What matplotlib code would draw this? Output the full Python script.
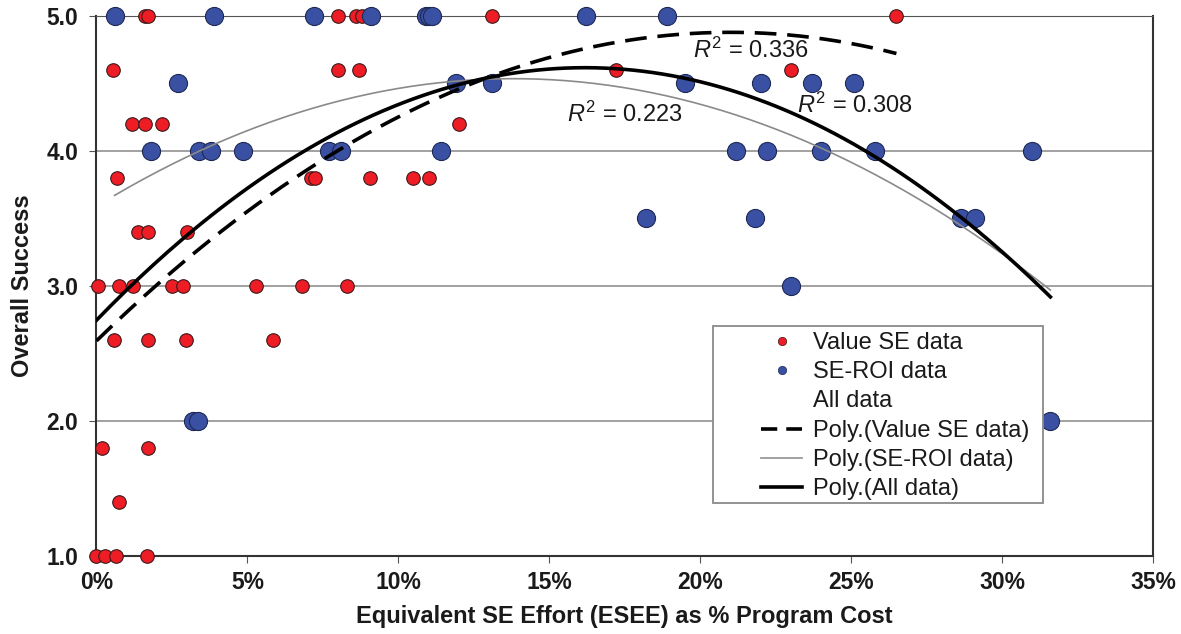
import numpy as np
import matplotlib
matplotlib.use("Agg")
import matplotlib.pyplot as plt
from matplotlib.lines import Line2D
from matplotlib.patches import Rectangle
from matplotlib.ticker import FuncFormatter

plt.rcParams['font.family'] = ['Liberation Sans', 'DejaVu Sans']
plt.rcParams['mathtext.fontset'] = 'custom'
plt.rcParams['mathtext.it'] = 'Liberation Sans:italic'
plt.rcParams['mathtext.rm'] = 'Liberation Sans'

# Value SE data (x in % of program cost, y = overall success)
value_x = [1.6, 1.7, 8.0, 8.6, 8.8, 13.1, 26.5,
           0.55, 8.0, 8.7, 17.2, 23.0,
           1.18, 1.6, 2.17, 12.0,
           0.68, 7.1, 7.25, 9.05, 10.5, 11.0,
           1.38, 1.7, 3.0,
           0.05, 0.75, 1.2, 2.5, 2.87, 5.3, 6.8, 8.3,
           0.58, 1.7, 2.97, 5.85,
           0.18, 1.7,
           0.75,
           0.0, 0.28, 0.65, 1.67]
value_y = [5.0] * 7 + [4.6] * 5 + [4.2] * 4 + [3.8] * 6 + [3.4] * 3 + \
          [3.0] * 8 + [2.6] * 4 + [1.8] * 2 + [1.4] + [1.0] * 4

# SE-ROI data
roi_x = [0.6, 3.9, 7.2, 9.1, 10.9, 11.0, 11.1, 16.2, 18.9,
         2.7, 11.9, 13.1, 19.5, 22.0, 23.7, 25.1,
         1.8, 3.4, 3.8, 4.85, 7.7, 8.1, 11.4, 21.2, 22.2, 24.0, 25.8, 31.0,
         18.2, 21.8, 28.65, 29.1,
         23.0,
         3.2, 3.35, 31.6]
roi_y = [5.0] * 9 + [4.5] * 7 + [4.0] * 12 + [3.5] * 4 + [3.0] + [2.0] * 3

# R^2 annotations (label, x, y of baseline)
r2_labels = ["0.336", "0.223", "0.308"]
r2_x = [19.75, 15.6, 23.2]
r2_y = [4.69, 4.215, 4.28]

fig = plt.figure(figsize=(11.81, 6.34), dpi=100)
ax = fig.add_axes([0.0817, 0.123, 0.8946, 0.852])

ax.grid(axis='y', color='#9a9a9a', lw=1.3)
ax.set_axisbelow(True)

ax.scatter(value_x, value_y, s=95, color='#ee1c25', edgecolor='#3a1a1a',
           lw=0.8, zorder=3, clip_on=False)
ax.scatter(roi_x, roi_y, s=170, color='#3a50a2', edgecolor='#1e2a55',
           lw=0.8, zorder=3, clip_on=False)

# second order polynomial trendlines
vx, vy = np.array(value_x), np.array(value_y)
rx, ry = np.array(roi_x), np.array(roi_y)
ax_all = np.concatenate([vx, rx])
ay_all = np.concatenate([vy, ry])

p_val = np.polyfit(vx, vy, 2)
p_roi = np.polyfit(rx, ry, 2)
p_all = np.polyfit(ax_all, ay_all, 2)

xv = np.linspace(vx.min(), vx.max(), 200)
xr = np.linspace(rx.min(), rx.max(), 200)
xa = np.linspace(ax_all.min(), ax_all.max(), 200)
ax.plot(xv, np.polyval(p_val, xv), color='black', lw=2.6, ls=(0, (6, 3)), zorder=4)
ax.plot(xr, np.polyval(p_roi, xr), color='#8a8a8a', lw=1.2, zorder=4)
ax.plot(xa, np.polyval(p_all, xa), color='black', lw=2.6, zorder=4)

for lab, x, y in zip(r2_labels, r2_x, r2_y):
    ax.text(x, y, r"$R^2$ = " + lab, fontsize=17, ha='left', va='baseline',
            color='#1a1a1a', zorder=5)

ax.set_xlim(0, 35)
ax.set_ylim(1.0, 5.0)
ax.set_xticks(np.arange(0, 36, 5))
ax.set_yticks([1.0, 2.0, 3.0, 4.0, 5.0])
ax.xaxis.set_major_formatter(FuncFormatter(lambda v, p: "%d%%" % v))
ax.yaxis.set_major_formatter(FuncFormatter(lambda v, p: "%.1f" % v))
ax.tick_params(labelsize=16.5, length=5, color='#555555', labelcolor='#1a1a1a')
ax.tick_params(axis='x', pad=6)
ax.tick_params(axis='y', pad=8)
for lbl in ax.get_xticklabels() + ax.get_yticklabels():
    lbl.set_fontweight('bold')

for s in ['left', 'right', 'bottom']:
    ax.spines[s].set_color('#333333')
    ax.spines[s].set_linewidth(1.5)
ax.spines['top'].set_color('#555555')

ax.set_xlabel('Equivalent SE Effort (ESEE) as % Program Cost', fontsize=17,
              fontweight='bold', labelpad=8, color='#1a1a1a')
ax.set_ylabel('Overall Success', fontsize=17, fontweight='bold', labelpad=9,
              color='#1a1a1a')

handles = [
    Line2D([], [], ls='none', marker='o', ms=6, color='#ee1c25', mec='#3a1a1a', mew=0.5),
    Line2D([], [], ls='none', marker='o', ms=6, color='#3a50a2', mec='#1e2a55', mew=0.5),
    Line2D([], [], ls='none'),
    Line2D([], [], color='black', lw=2.6, ls=(0, (4.5, 2.5))),
    Line2D([], [], color='#9a9a9a', lw=1.3),
    Line2D([], [], color='black', lw=2.6),
]
labels = ['Value SE data', 'SE-ROI data', 'All data', 'Poly.(Value SE data)',
          'Poly.(SE-ROI data)', 'Poly.(All data)']
leg = ax.legend(handles, labels, loc='upper left', bbox_to_anchor=(0.629, 0.415),
                fontsize=17, frameon=False, borderpad=0, borderaxespad=0,
                labelspacing=0.31, handlelength=1.75, handletextpad=0.47)
for t in leg.get_texts():
    t.set_color('#1a1a1a')

# Excel-style legend frame with wide left margin
ax.add_patch(Rectangle((0.5835, 0.0981), 0.3124, 0.3278, transform=ax.transAxes,
                       facecolor='white', edgecolor='#8a8a8a', lw=1.3, zorder=5))
leg.set_zorder(6)

fig.savefig('out.png', dpi=100)
